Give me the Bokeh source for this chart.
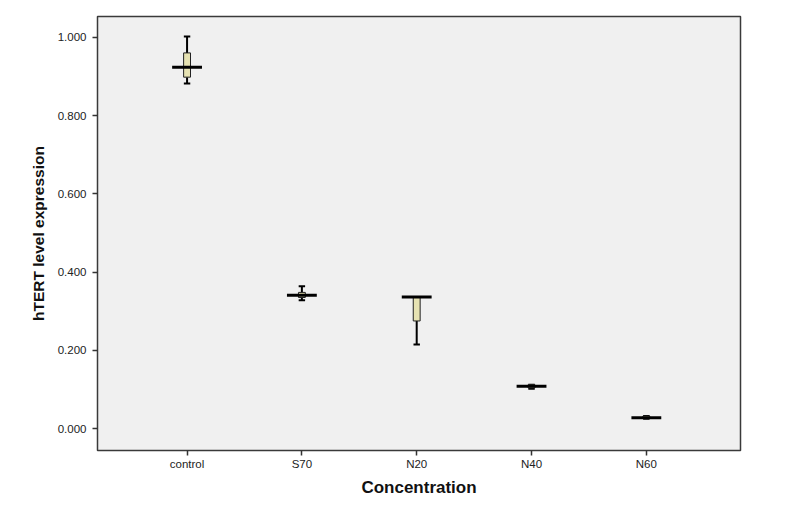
from bokeh.plotting import figure
from bokeh.models import FixedTicker, NumeralTickFormatter, Range1d, ColumnDataSource
from bokeh.embed import file_html
from bokeh.resources import INLINE

categories = ["control", "S70", "N20", "N40", "N60"]
whisker_low = [0.882, 0.328, 0.215, 0.102, 0.025]
q1 = [0.898, 0.335, 0.275, 0.104, 0.026]
median = [0.923, 0.341, 0.336, 0.108, 0.028]
q3 = [0.960, 0.348, 0.336, 0.112, 0.032]
whisker_high = [1.002, 0.364, 0.336, 0.112, 0.032]
y_ticks = [0.0, 0.2, 0.4, 0.6, 0.8, 1.0]

xs = list(range(len(categories)))
box_w = 0.06
med_w = 0.13
cap_w = 0.028

src = ColumnDataSource(dict(
    x=xs, lo=whisker_low, q1=q1, med=median, q3=q3, hi=whisker_high,
    med_l=[x - med_w for x in xs], med_r=[x + med_w for x in xs],
    cap_l=[x - cap_w for x in xs], cap_r=[x + cap_w for x in xs],
))

p = figure(width=775, height=499, output_backend="svg", toolbar_location=None,
           x_range=Range1d(-0.78, len(categories) - 1 + 0.82),
           y_range=Range1d(-0.056, 1.053),
           min_border_left=97, min_border_right=35, min_border_top=16, min_border_bottom=47)

p.background_fill_color = "#f0f0f0"
p.border_fill_color = "white"
p.outline_line_color = "#3a3a3a"
p.outline_line_width = 1.5
p.xgrid.visible = False
p.ygrid.visible = False

# whiskers
p.segment(x0="x", y0="lo", x1="x", y1="q1", source=src, line_color="black", line_width=2)
p.segment(x0="x", y0="q3", x1="x", y1="hi", source=src, line_color="black", line_width=2)
p.segment(x0="cap_l", y0="lo", x1="cap_r", y1="lo", source=src, line_color="black", line_width=2)
p.segment(x0="cap_l", y0="hi", x1="cap_r", y1="hi", source=src, line_color="black", line_width=2)
# boxes
p.vbar(x="x", bottom="q1", top="q3", width=box_w, source=src,
       fill_color="#e6e2b2", line_color="#222222", line_width=1)
# medians
p.segment(x0="med_l", y0="med", x1="med_r", y1="med", source=src, line_color="black", line_width=3)

p.xaxis.ticker = FixedTicker(ticks=xs)
p.xaxis.major_label_overrides = {i: c for i, c in enumerate(categories)}
p.yaxis.ticker = FixedTicker(ticks=y_ticks)
p.yaxis.formatter = NumeralTickFormatter(format="0.000")

for ax in (p.xaxis[0], p.yaxis[0]):
    ax.axis_line_color = None
    ax.major_tick_in = 0
    ax.major_tick_out = 5
    ax.major_tick_line_color = "#333333"
    ax.major_tick_line_width = 1.5
    ax.minor_tick_line_color = None
    ax.major_label_text_font = "Liberation Sans"
    ax.major_label_text_font_size = "11.5px"
    ax.major_label_text_color = "#222222"
    ax.axis_label_text_font = "Liberation Sans"
    ax.axis_label_text_font_style = "bold"
    ax.axis_label_text_color = "#111111"

p.xaxis.axis_label = "Concentration"
p.xaxis.axis_label_text_font_size = "17px"
p.xaxis.major_label_standoff = 2
p.xaxis.axis_label_standoff = 5
p.yaxis.axis_label = "hTERT level expression"
p.yaxis.axis_label_text_font_size = "15.5px"
p.yaxis.major_label_standoff = 6
p.yaxis.axis_label_standoff = 8

open("out.html", "w").write(file_html(p, INLINE))
